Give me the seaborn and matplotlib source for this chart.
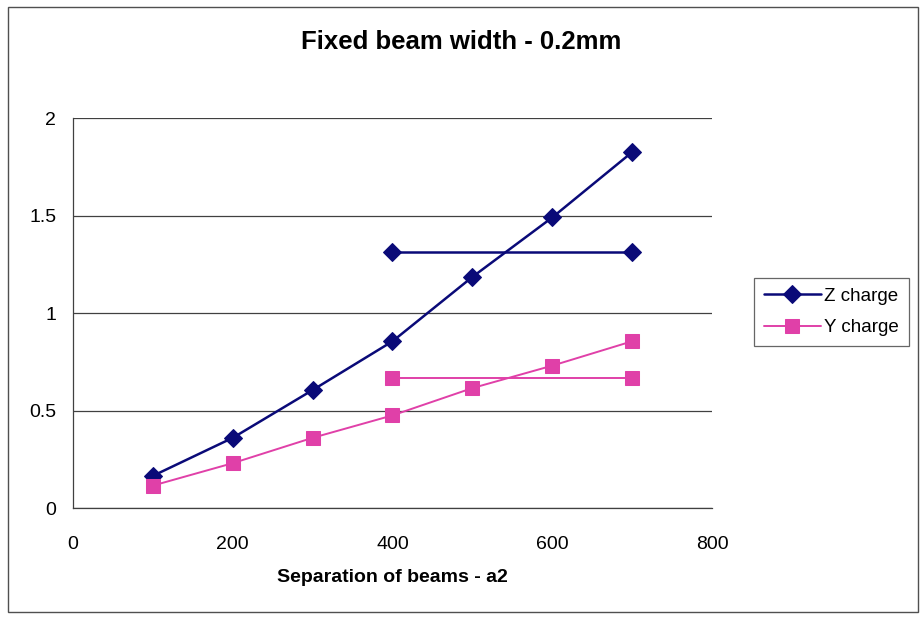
import matplotlib
matplotlib.use("Agg")
import matplotlib.pyplot as plt
import matplotlib.patches as mpatches
import seaborn as sns
import pandas as pd

separation = [100, 200, 300, 400, 500, 600, 700]
z_charge = [0.165, 0.36, 0.605, 0.855, 1.185, 1.49, 1.825]
y_charge = [0.115, 0.23, 0.36, 0.475, 0.615, 0.73, 0.855]
ref_x = [400, 700]
z_ref = [1.315, 1.315]
y_ref = [0.665, 0.665]

z_color = "#0a0a78"
y_color = "#e040a8"

sns.set_style("white")
plt.rcParams["font.family"] = ["Liberation Sans", "DejaVu Sans"]
plt.rcParams["text.color"] = "black"
plt.rcParams["xtick.color"] = "black"
plt.rcParams["ytick.color"] = "black"
plt.rcParams["axes.labelcolor"] = "black"

fig = plt.figure(figsize=(9.22, 6.19), dpi=100)
ax = fig.add_axes([0.0792, 0.1793, 0.6930, 0.6300])

df = pd.DataFrame({"x": separation, "Z charge": z_charge, "Y charge": y_charge})
dref = pd.DataFrame({"x": ref_x, "z": z_ref, "y": y_ref})

sns.lineplot(data=df, x="x", y="Z charge", ax=ax, color=z_color, marker="D",
             markersize=9, markeredgecolor=z_color, linewidth=1.8, label="Z charge")
sns.lineplot(data=df, x="x", y="Y charge", ax=ax, color=y_color, marker="s",
             markersize=10, markeredgecolor=y_color, linewidth=1.4, label="Y charge")
sns.lineplot(data=dref, x="x", y="z", ax=ax, color=z_color, marker="D",
             markersize=9, markeredgecolor=z_color, linewidth=1.8, legend=False)
sns.lineplot(data=dref, x="x", y="y", ax=ax, color=y_color, marker="s",
             markersize=10, markeredgecolor=y_color, linewidth=1.4, legend=False)

ax.set_xlim(0, 800)
ax.set_ylim(0, 2)
ax.set_xticks([0, 200, 400, 600, 800])
ax.set_yticks([0, 0.5, 1, 1.5, 2])
ax.set_yticklabels(["0", "0.5", "1", "1.5", "2"])
ax.yaxis.grid(True, color="#404040", linewidth=0.9)
ax.xaxis.grid(False)
for s in ["top", "right"]:
    ax.spines[s].set_visible(False)
for s in ["left", "bottom"]:
    ax.spines[s].set_visible(True)
    ax.spines[s].set_color("#404040")
    ax.spines[s].set_linewidth(0.9)
ax.tick_params(axis="both", which="major", length=6, width=0.9, color="#404040",
               labelsize=14, direction="inout", labelcolor="black")
ax.tick_params(axis="x", pad=17)
ax.tick_params(axis="y", pad=9)
ax.set_xlabel("Separation of beams - a2", fontsize=14, fontweight="bold", labelpad=12,
              color="black")
ax.set_ylabel("")
fig.text(461 / 922, 1 - 42 / 619, "Fixed beam width - 0.2mm", fontsize=18.5,
         fontweight="bold", ha="center", va="center", color="black")

leg = ax.legend(loc="center left", bbox_to_anchor=(754 / 922, (619 - 312) / 619),
                bbox_transform=fig.transFigure, frameon=True, fancybox=False,
                fontsize=13.5, handlelength=3.0, handletextpad=0.2, borderpad=0.55,
                labelspacing=0.75, borderaxespad=0)
leg.get_frame().set_edgecolor("#404040")
leg.get_frame().set_linewidth(0.9)
for t in leg.get_texts():
    t.set_color("black")

fig.patches.append(mpatches.Rectangle((8 / 922, 7 / 619), 910 / 922, 605 / 619,
                                      transform=fig.transFigure, fill=False,
                                      edgecolor="#505050", linewidth=1.0))

fig.savefig("out.png", dpi=100)
